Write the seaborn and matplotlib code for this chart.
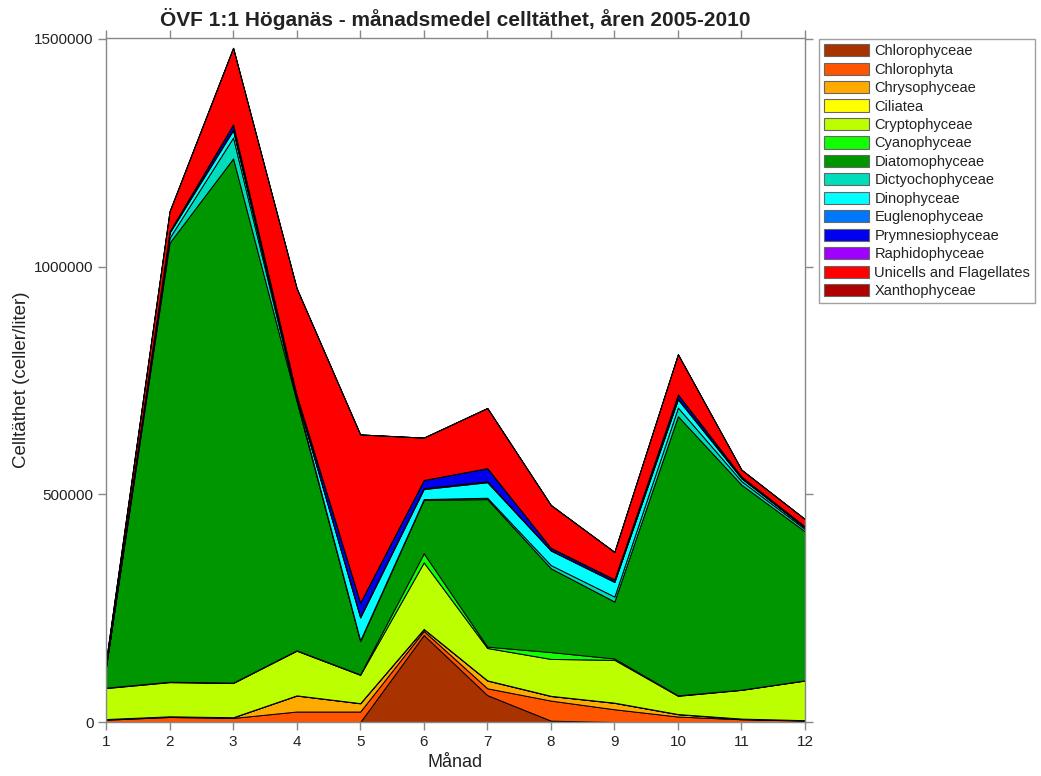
import numpy as np
import pandas as pd
import matplotlib
matplotlib.use("Agg")
import matplotlib.pyplot as plt
from matplotlib.patches import Patch
import seaborn as sns

months = [1, 2, 3, 4, 5, 6, 7, 8, 9, 10, 11, 12]
groups = ["Chlorophyceae", "Chlorophyta", "Chrysophyceae", "Ciliatea", "Cryptophyceae",
          "Cyanophyceae", "Diatomophyceae", "Dictyochophyceae", "Dinophyceae",
          "Euglenophyceae", "Prymnesiophyceae", "Raphidophyceae",
          "Unicells and Flagellates", "Xanthophyceae"]
colors = ["#A83200", "#FF5500", "#FFAA00", "#FFFF00", "#BBFF00", "#11FF00", "#009600",
          "#00DDBB", "#00FFFF", "#0077FF", "#0000EE", "#A000FF", "#FF0000", "#B00000"]

chlorophyceae    = [0, 0, 0, 0, 0, 191000, 59000, 3000, 0, 0, 0, 0]
chlorophyta      = [5000, 11000, 9000, 23000, 23000, 9000, 15000, 44000, 28000, 12000, 6000, 3000]
chrysophyceae    = [1000, 1000, 1000, 35000, 18000, 4000, 17000, 10000, 14000, 5000, 1000, 500]
ciliatea         = [500, 500, 500, 500, 500, 500, 500, 500, 500, 500, 500, 500]
cryptophyceae    = [68000, 75000, 75000, 98000, 62000, 146000, 71000, 81000, 94000, 40000, 63000, 87000]
cyanophyceae     = [1000, 1000, 1000, 1000, 1000, 20000, 3000, 15000, 3000, 1000, 500, 500]
diatomophyceae   = [45000, 964000, 1151000, 547000, 73000, 117000, 324000, 184000, 125000, 613000, 450000, 327000]
dictyochophyceae = [1000, 11000, 46000, 4000, 2000, 2000, 3000, 7000, 11000, 19000, 8000, 5000]
dinophyceae      = [1000, 11000, 16000, 5000, 50000, 22000, 34000, 32000, 32000, 18000, 6000, 3000]
euglenophyceae   = [500, 1000, 2000, 1000, 2000, 2000, 2000, 1000, 1000, 2000, 1000, 1000]
prymnesiophyceae = [500, 2000, 11000, 4000, 31000, 18000, 29000, 5000, 5000, 9000, 3000, 2000]
raphidophyceae   = [0, 0, 0, 0, 0, 0, 0, 0, 0, 0, 0, 0]
unicells         = [10000, 44000, 168000, 234000, 369000, 93000, 132000, 94000, 60000, 88000, 15000, 16000]
xanthophyceae    = [0, 0, 0, 0, 0, 0, 0, 0, 0, 0, 0, 0]

series = [chlorophyceae, chlorophyta, chrysophyceae, ciliatea, cryptophyceae, cyanophyceae,
          diatomophyceae, dictyochophyceae, dinophyceae, euglenophyceae, prymnesiophyceae,
          raphidophyceae, unicells, xanthophyceae]

df = pd.DataFrame({g: s for g, s in zip(groups, series)}, index=months)

sns.set_theme(style="white")
plt.rcParams['font.family'] = ['Liberation Sans', 'DejaVu Sans']

fig = plt.figure(figsize=(10.41, 7.76), dpi=100)
ax = fig.add_axes([106/1041, 54/776, 699/1041, 684/776])

ax.stackplot(df.index, [df[g].values for g in groups], colors=colors,
             edgecolor="black", linewidth=0.7)

ax.set_xlim(1, 12)
ax.set_ylim(0, 1502000)
ax.set_xticks(months)
ax.set_yticks([0, 500000, 1000000, 1500000])
ax.set_yticklabels(["0", "500000", "1000000", "1500000"])
for sp in ax.spines.values():
    sp.set_color("#888888")
    sp.set_linewidth(1.0)
ax.tick_params(axis="both", which="both", direction="out", length=6, width=1,
               color="#888888", labelsize=11, labelcolor="#222222",
               bottom=True, left=True, top=True, right=True,
               labeltop=False, labelright=False, pad=3)

ax.set_xlabel("Månad", fontsize=13, color="#222222", labelpad=4)
ax.set_ylabel("Celltäthet (celler/liter)", fontsize=13.5, color="#222222", labelpad=3)
ax.set_title("ÖVF 1:1 Höganäs - månadsmedel celltäthet, åren 2005-2010",
             fontsize=15, fontweight="bold", color="#222222", pad=9)

handles = [Patch(facecolor=c, edgecolor="#666666", linewidth=0.8, label=g)
           for g, c in zip(groups, colors)]
leg = fig.legend(handles=handles, loc="upper left", bbox_to_anchor=(819/1041, 1 - 39/776),
                 frameon=True, fontsize=10.5, handlelength=3.1, handleheight=0.9,
                 handletextpad=0.35, labelspacing=0.3, borderpad=0.35, borderaxespad=0,
                 fancybox=False)
leg.get_frame().set_edgecolor("#888888")
leg.get_frame().set_linewidth(1.0)
for t in leg.get_texts():
    t.set_color("#222222")

fig.savefig("out.png", dpi=100)
